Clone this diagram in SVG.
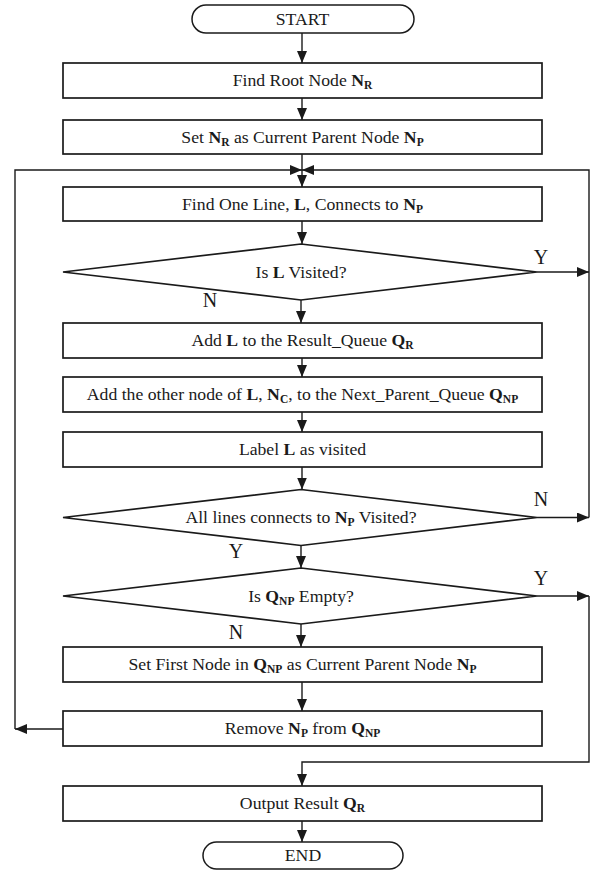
<svg xmlns="http://www.w3.org/2000/svg" width="592" height="871" viewBox="0 0 592 871">
  <style>
    .box { fill: #ffffff; stroke: #1a1a1a; stroke-width: 1.7; }
    .term { fill: #ffffff; stroke: #1a1a1a; stroke-width: 1.5; }
    .lbl { font-family: "Liberation Serif", "Times New Roman", serif; font-size: 17.7px; fill: #1a1a1a; text-anchor: middle; }
    .yn { font-family: "Liberation Serif", "Times New Roman", serif; font-size: 20px; fill: #1a1a1a; text-anchor: middle; }
    .b { font-weight: bold; }
    .s { font-weight: bold; font-size: 11.5px; }
    .edge { fill: none; stroke: #1a1a1a; stroke-width: 1.4; }
  </style>
  <defs>
    <marker id="arrow" markerUnits="userSpaceOnUse" markerWidth="13" markerHeight="11" refX="12" refY="5" orient="auto">
      <path d="M0,0 L12,5 L0,10 Z" fill="#1a1a1a"/>
    </marker>
  </defs>

  <rect width="592" height="871" fill="#ffffff"/>

  <!-- connectors -->
  <g id="connectors">
    <path class="edge" d="M302,33 V63" marker-end="url(#arrow)"/>
    <path class="edge" d="M302,98 V120" marker-end="url(#arrow)"/>
    <path class="edge" d="M302,154 V187" marker-end="url(#arrow)"/>
    <path class="edge" d="M302,221 V244" marker-end="url(#arrow)"/>
    <path class="edge" d="M301,300 V323" marker-end="url(#arrow)"/>
    <path class="edge" d="M302,358 V377" marker-end="url(#arrow)"/>
    <path class="edge" d="M302,412 V432" marker-end="url(#arrow)"/>
    <path class="edge" d="M302,467 V489.5" marker-end="url(#arrow)"/>
    <path class="edge" d="M301,545.5 V568" marker-end="url(#arrow)"/>
    <path class="edge" d="M301,624 V647" marker-end="url(#arrow)"/>
    <path class="edge" d="M302,682 V711" marker-end="url(#arrow)"/>
    <path class="edge" d="M302,821 V842" marker-end="url(#arrow)"/>
    <!-- Y: line already visited -->
    <path class="edge" d="M537,272 H589" marker-end="url(#arrow)"/>
    <!-- N: lines of parent remain, back to top -->
    <path class="edge" d="M537,517.5 H589" marker-end="url(#arrow)"/>
    <path class="edge" d="M589,517.5 V170 H302" marker-end="url(#arrow)"/>
    <!-- loop back from the queue step -->
    <path class="edge" d="M63,729 H15" marker-end="url(#arrow)"/>
    <path class="edge" d="M15,729 V170 H302" marker-end="url(#arrow)"/>
    <!-- Y: queue empty, go to output -->
    <path class="edge" d="M537,596 H589" marker-end="url(#arrow)"/>
    <path class="edge" d="M589,596 V762 H302 V786" marker-end="url(#arrow)"/>
  </g>

  <g id="start">
    <rect class="term" x="192" y="5" width="222" height="28" rx="14" ry="14"/>
    <text class="lbl" x="302.5" y="25">START</text>
  </g>

  <g id="find-root">
    <rect class="box" x="63" y="63" width="479" height="35"/>
    <text class="lbl" x="302.5" y="86">Find Root Node <tspan class="b">N</tspan><tspan class="s" dy="3">R</tspan></text>
  </g>

  <g id="set-parent">
    <rect class="box" x="63" y="120" width="479" height="34"/>
    <text class="lbl" x="302.5" y="143">Set <tspan class="b">N</tspan><tspan class="s" dy="3">R</tspan><tspan dy="-3"> as Current Parent Node </tspan><tspan class="b">N</tspan><tspan class="s" dy="3">P</tspan></text>
  </g>

  <g id="find-line">
    <rect class="box" x="63" y="187" width="479" height="34"/>
    <text class="lbl" x="302.5" y="210">Find One Line, <tspan class="b">L</tspan>, Connects to <tspan class="b">N</tspan><tspan class="s" dy="3">P</tspan></text>
  </g>

  <g id="is-visited">
    <polygon class="box" points="301,244 537,272 301,300 63,272"/>
    <text class="lbl" x="301" y="278">Is <tspan class="b">L</tspan> Visited?</text>
    <text class="yn" x="541" y="264">Y</text>
    <text class="yn" x="210" y="307">N</text>
  </g>

  <g id="add-result">
    <rect class="box" x="63" y="323" width="479" height="35"/>
    <text class="lbl" x="302.5" y="346">Add <tspan class="b">L</tspan> to the Result_Queue <tspan class="b">Q</tspan><tspan class="s" dy="3">R</tspan></text>
  </g>

  <g id="add-next-parent">
    <rect class="box" x="63" y="377" width="479" height="35"/>
    <text class="lbl" x="302.5" y="400">Add the other node of <tspan class="b">L</tspan>, <tspan class="b">N</tspan><tspan class="s" dy="3">C</tspan><tspan dy="-3">, to the Next_Parent_Queue </tspan><tspan class="b">Q</tspan><tspan class="s" dy="3">NP</tspan></text>
  </g>

  <g id="label-visited">
    <rect class="box" x="63" y="432" width="479" height="35"/>
    <text class="lbl" x="302.5" y="455">Label <tspan class="b">L</tspan> as visited</text>
  </g>

  <g id="all-visited">
    <polygon class="box" points="301,489.5 537,517.5 301,545.5 63,517.5"/>
    <text class="lbl" x="301" y="523">All lines connects to <tspan class="b">N</tspan><tspan class="s" dy="3">P</tspan><tspan dy="-3"> Visited?</tspan></text>
    <text class="yn" x="541" y="506">N</text>
    <text class="yn" x="236" y="558">Y</text>
  </g>

  <g id="queue-empty">
    <polygon class="box" points="301,568 537,596 301,624 63,596"/>
    <text class="lbl" x="301" y="602">Is <tspan class="b">Q</tspan><tspan class="s" dy="3">NP</tspan><tspan dy="-3"> Empty?</tspan></text>
    <text class="yn" x="541" y="585">Y</text>
    <text class="yn" x="236" y="639">N</text>
  </g>

  <g id="set-first">
    <rect class="box" x="63" y="647" width="479" height="35"/>
    <text class="lbl" x="302.5" y="670">Set First Node in <tspan class="b">Q</tspan><tspan class="s" dy="3">NP</tspan><tspan dy="-3"> as Current Parent Node </tspan><tspan class="b">N</tspan><tspan class="s" dy="3">P</tspan></text>
  </g>

  <g id="remove-parent">
    <rect class="box" x="63" y="711" width="479" height="35"/>
    <text class="lbl" x="302.5" y="734">Remove <tspan class="b">N</tspan><tspan class="s" dy="3">P</tspan><tspan dy="-3"> from </tspan><tspan class="b">Q</tspan><tspan class="s" dy="3">NP</tspan></text>
  </g>

  <g id="output">
    <rect class="box" x="63" y="786" width="479" height="35"/>
    <text class="lbl" x="302.5" y="809">Output Result <tspan class="b">Q</tspan><tspan class="s" dy="3">R</tspan></text>
  </g>

  <g id="end">
    <rect class="term" x="203" y="842" width="200" height="27" rx="13.5" ry="13.5"/>
    <text class="lbl" x="303" y="861">END</text>
  </g>
</svg>
